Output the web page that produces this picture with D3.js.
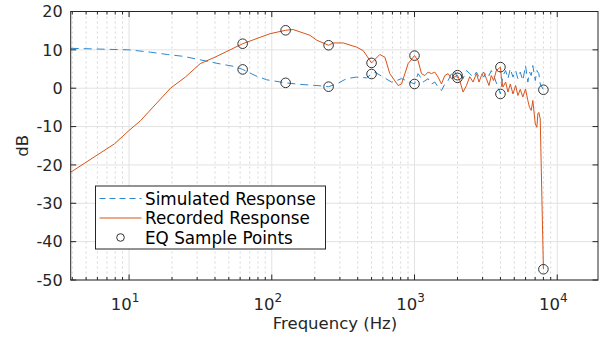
<!DOCTYPE html>
<html>
<head>
<meta charset="utf-8">
<script src="https://cdn.jsdelivr.net/npm/d3@7"></script>
<style>
  html, body { margin: 0; padding: 0; background: #fff; }
  svg { display: block; font-family: "DejaVu Sans", sans-serif; }
</style>
</head>
<body>
<div id="chart"></div>
<script>
// ── Data ──────────────────────────────────────────────────────────────────
const simulated = [
  [3.9, 10.4], [10, 10.0], [14.1, 9.4], [18.5, 8.8], [24.1, 8.3], [31.5, 7.4],
  [41.2, 6.5], [53.8, 5.7], [62.5, 4.9], [76.4, 3.3], [92, 2.2], [125, 1.4],
  [158, 1.0], [207, 0.7], [250, 0.4], [285, 1.1], [334, 2.5], [393, 2.9],
  [461, 2.7], [500, 3.7], [527, 4.2], [603, 2.9], [690, 1.6], [750, 2.0],
  [811, 2.5], [1000, 1.1], [1059, 3.8], [1100, 2.9], [1148, 1.6], [1245, 2.5],
  [1315, 1.1], [1387, 1.6], [1463, 0.3], [1545, -0.6], [1630, 1.1], [1719, 2.0],
  [1815, 3.8], [1900, 4.6], [2000, 2.7], [2075, 3.8], [2188, 2.5], [2311, 4.6],
  [2438, 3.8], [2571, 2.9], [2716, 4.2], [2832, 2.9], [2942, 3.8], [3054, 2.9],
  [3187, 4.2], [3324, 3.3], [3452, 4.6], [3586, 3.3], [4000, -1.5], [4055, 0.3],
  [4165, 3.3], [4349, 4.6], [4515, 2.5], [4690, 5.1], [4893, 2.9], [5109, 4.6],
  [5301, 2.5], [5506, 4.2], [5741, 2.0], [5995, 5.9], [6222, 1.6], [6395, 4.2],
  [6573, 3.3], [6745, 5.9], [7015, 2.0], [7196, 4.6], [7431, 3.8], [7600, 1.1],
  [8000, -0.4]
];

const recorded = [
  [3.9, -21.9], [7.9, -14.5], [10, -11.0], [12, -8.5], [19.5, 0], [24.8, 2.9],
  [31.5, 6.4], [40, 8.1], [51, 10.0], [62.5, 11.6], [74, 12.6], [97, 14.2],
  [125, 15.1], [141, 15.3], [185, 13.8], [207, 12.5], [250, 11.2], [270, 11.8],
  [317, 11.8], [393, 10.7], [437, 9.8], [500, 6.6], [571, 8.8], [620, 8.1],
  [671, 3.8], [768, 0.7], [811, 1.1], [902, 6.4], [1000, 8.5], [1059, 7.2],
  [1119, 3.8], [1181, 3.3], [1245, 4.2], [1315, 3.8], [1387, 4.2], [1463, 2.9],
  [1545, 1.1], [1630, 3.3], [1719, 3.8], [1815, 2.5], [2000, 3.4], [2075, 2.0],
  [2188, -1.0], [2311, 0.7], [2438, 3.0], [2571, 1.6], [2716, 3.8], [2832, 1.6],
  [2942, 3.3], [3054, 4.2], [3187, 2.5], [3324, 0.7], [3452, 3.3], [3586, 2.0],
  [3741, 4.6], [4000, 5.5], [4055, 2.9], [4165, 0.3], [4349, 1.6], [4515, -1.0],
  [4690, 1.1], [4893, -1.5], [5109, 0.7], [5301, -1.9], [5506, -0.3], [5741, -2.3],
  [5995, -0.2], [6222, -3.2], [6395, -5.0], [6573, -5.8], [6745, -3.2], [7015, -9.3],
  [7196, -10.2], [7313, -6.7], [7431, -6.3], [7600, -8.0], [8000, -47.2]
];

const eqFreqs = [62.5, 125, 250, 500, 1000, 2000, 4000, 8000];
const eqSimulated = [4.9, 1.4, 0.4, 3.7, 1.1, 2.7, -1.5, -0.4];
const eqRecorded = [11.6, 15.1, 11.2, 6.6, 8.5, 3.4, 5.5, -47.2];

const yTicks = [20, 10, 0, -10, -20, -30, -40, -50];
const xMajor = [10, 100, 1000, 10000];
const legendLabels = ["Simulated Response", "Recorded Response", "EQ Sample Points"];

// ── Setup ─────────────────────────────────────────────────────────────────
const W = 603, H = 337;
const PLOT = { left: 70.7, right: 598, top: 11.5, bottom: 280 };
const AXIS = "#262626";
const BLUE = "#2a88cf";
const ORANGE = "#D95319";

const x = d3.scaleLog().domain([3.9, 19300]).range([PLOT.left, PLOT.right]);
const y = d3.scaleLinear().domain([-50, 20]).range([PLOT.bottom, PLOT.top]);

const xMinor = [];
for (let d = 0; d <= 4; d++) {
  for (let m = 2; m <= 9; m++) {
    const v = m * Math.pow(10, d);
    if (v > 3.9 && v < 19300) xMinor.push(v);
  }
}

const svg = d3.select("#chart").append("svg").attr("width", W).attr("height", H);

// ── Grid ──────────────────────────────────────────────────────────────────
const grid = svg.append("g");
grid.selectAll("line.minor")
  .data(xMinor)
  .join("line")
  .attr("x1", (d) => x(d)).attr("x2", (d) => x(d))
  .attr("y1", PLOT.top).attr("y2", PLOT.bottom)
  .attr("stroke", "#d6d6d6")
  .attr("stroke-dasharray", "2 3")
  .attr("stroke-width", 1);
grid.selectAll("line.xmaj")
  .data(xMajor)
  .join("line")
  .attr("x1", (d) => x(d)).attr("x2", (d) => x(d))
  .attr("y1", PLOT.top).attr("y2", PLOT.bottom)
  .attr("stroke", "#e2e2e2");
grid.selectAll("line.ymaj")
  .data(yTicks)
  .join("line")
  .attr("x1", PLOT.left).attr("x2", PLOT.right)
  .attr("y1", (d) => y(d)).attr("y2", (d) => y(d))
  .attr("stroke", "#e2e2e2");

// ── Lines ─────────────────────────────────────────────────────────────────
const line = d3.line().x((d) => x(d[0])).y((d) => y(d[1]));

svg.append("path")
  .datum(simulated)
  .attr("d", line)
  .attr("fill", "none")
  .attr("stroke", BLUE)
  .attr("stroke-width", 1)
  .attr("stroke-dasharray", "8 5");

svg.append("path")
  .datum(recorded)
  .attr("d", line)
  .attr("fill", "none")
  .attr("stroke", ORANGE)
  .attr("stroke-width", 1);

// ── EQ sample markers ─────────────────────────────────────────────────────
const markers = eqFreqs.flatMap((f, i) => [[f, eqSimulated[i]], [f, eqRecorded[i]]]);
svg.append("g")
  .selectAll("circle")
  .data(markers)
  .join("circle")
  .attr("cx", (d) => x(d[0]))
  .attr("cy", (d) => y(d[1]))
  .attr("r", 4.8)
  .attr("fill", "none")
  .attr("stroke", "#333")
  .attr("stroke-width", 1);

// ── Axes box + ticks ──────────────────────────────────────────────────────
const ax = svg.append("g").attr("stroke", AXIS).attr("stroke-width", 1);
ax.append("rect")
  .attr("x", PLOT.left).attr("y", PLOT.top)
  .attr("width", PLOT.right - PLOT.left).attr("height", PLOT.bottom - PLOT.top)
  .attr("fill", "none");

const tick = (v, len) => [
  [x(v), PLOT.bottom, x(v), PLOT.bottom - len],
  [x(v), PLOT.top, x(v), PLOT.top + len]
];
const xTickSegs = [...xMajor.flatMap((v) => tick(v, 5.5)), ...xMinor.flatMap((v) => tick(v, 3))];
const yTickSegs = yTicks.flatMap((v) => [
  [PLOT.left, y(v), PLOT.left + 5.5, y(v)],
  [PLOT.right, y(v), PLOT.right - 5.5, y(v)]
]);
ax.selectAll("line")
  .data([...xTickSegs, ...yTickSegs])
  .join("line")
  .attr("x1", (d) => d[0]).attr("y1", (d) => d[1])
  .attr("x2", (d) => d[2]).attr("y2", (d) => d[3]);

// tick labels
svg.append("g")
  .selectAll("text")
  .data(yTicks)
  .join("text")
  .attr("x", PLOT.left - 8)
  .attr("y", (d) => y(d))
  .attr("dy", "0.36em")
  .attr("text-anchor", "end")
  .attr("font-size", 16)
  .attr("fill", AXIS)
  .text((d) => d);

const xl = svg.append("g")
  .selectAll("text")
  .data(xMajor)
  .join("text")
  .attr("x", (d) => x(d) - 4)
  .attr("y", 309.5)
  .attr("text-anchor", "middle")
  .attr("font-size", 16.5)
  .attr("fill", AXIS);
xl.append("tspan").text("10");
xl.append("tspan")
  .attr("dy", -8)
  .attr("font-size", 12)
  .text((d) => Math.round(Math.log10(d)));

// axis labels
svg.append("text")
  .attr("x", 335)
  .attr("y", 329)
  .attr("text-anchor", "middle")
  .attr("font-size", 16.5)
  .attr("fill", AXIS)
  .text("Frequency (Hz)");

svg.append("text")
  .attr("transform", `translate(28,${(PLOT.top + PLOT.bottom) / 2}) rotate(-90)`)
  .attr("text-anchor", "middle")
  .attr("font-size", 16.5)
  .attr("fill", AXIS)
  .text("dB");

// ── Legend ────────────────────────────────────────────────────────────────
const lg = svg.append("g").attr("transform", "translate(95.5,186)");
lg.append("rect")
  .attr("width", 230).attr("height", 63)
  .attr("fill", "#fff")
  .attr("stroke", AXIS)
  .attr("stroke-width", 1);

const rowY = [12.5, 32, 51.5];
lg.append("line")
  .attr("x1", 4).attr("x2", 46).attr("y1", rowY[0]).attr("y2", rowY[0])
  .attr("stroke", BLUE).attr("stroke-dasharray", "6 4");
lg.append("line")
  .attr("x1", 4).attr("x2", 46).attr("y1", rowY[1]).attr("y2", rowY[1])
  .attr("stroke", ORANGE);
lg.append("circle")
  .attr("cx", 25).attr("cy", rowY[2]).attr("r", 3.8)
  .attr("fill", "none").attr("stroke", "#333");

lg.selectAll("text")
  .data(legendLabels)
  .join("text")
  .attr("x", 49.5)
  .attr("y", (d, i) => rowY[i])
  .attr("dy", "0.36em")
  .attr("font-size", 16.8)
  .attr("fill", "#000")
  .text((d) => d);
</script>
</body>
</html>
